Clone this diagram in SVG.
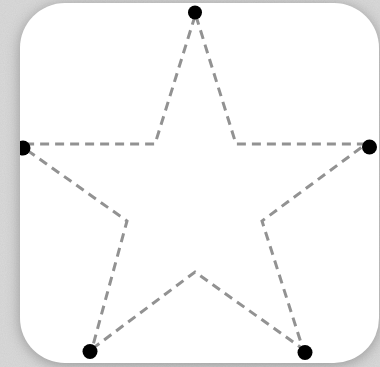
<svg xmlns="http://www.w3.org/2000/svg" width="380" height="367" viewBox="0 0 380 367">
<defs>
<style>
.edge{fill:none;stroke:#929292;stroke-width:3;stroke-dasharray:9 6;stroke-linejoin:miter}
.dot{fill:#000}
</style>
<filter id="shadow" x="-20%" y="-20%" width="140%" height="140%">
<feGaussianBlur stdDeviation="7"/>
</filter>
<filter id="noise" x="0" y="0" width="100%" height="100%">
<feTurbulence type="fractalNoise" baseFrequency="0.9" numOctaves="2" seed="3" result="n"/>
<feColorMatrix type="matrix" values="0 0 0 0 0.5  0 0 0 0 0.5  0 0 0 0 0.5  0 0 0 0.35 0" />
</filter>
<clipPath id="card"><rect x="20" y="3" width="359" height="360" rx="45" ry="45"/></clipPath>
</defs>
<rect width="380" height="367" fill="#dadada"/>
<rect width="380" height="367" filter="url(#noise)"/>
<rect x="20" y="5" width="359" height="360" rx="45" ry="45" fill="#7a7a7a" opacity="0.7" filter="url(#shadow)"/>
<rect x="20" y="3" width="359" height="360" rx="45" ry="45" fill="#ffffff"/>
<g clip-path="url(#card)">
<g id="connectors">
<path class="edge" d="M196 16 L236 144 L366 144 L262 221 L303 349 L195 272 L92 349 L127 221 L24 148"/>
<path class="edge" d="M195 16 L155 144 L24 144"/>
</g>
<g id="n-top"><circle class="dot" cx="195" cy="12.5" r="7"/></g>
<g id="n-right"><circle class="dot" cx="369.5" cy="147" r="7.5"/></g>
<g id="n-bottomright"><circle class="dot" cx="305" cy="352.5" r="7.5"/></g>
<g id="n-bottomleft"><circle class="dot" cx="90" cy="351.5" r="7.5"/></g>
<g id="n-left"><circle class="dot" cx="23" cy="148" r="7.5"/></g>
</g>
</svg>
